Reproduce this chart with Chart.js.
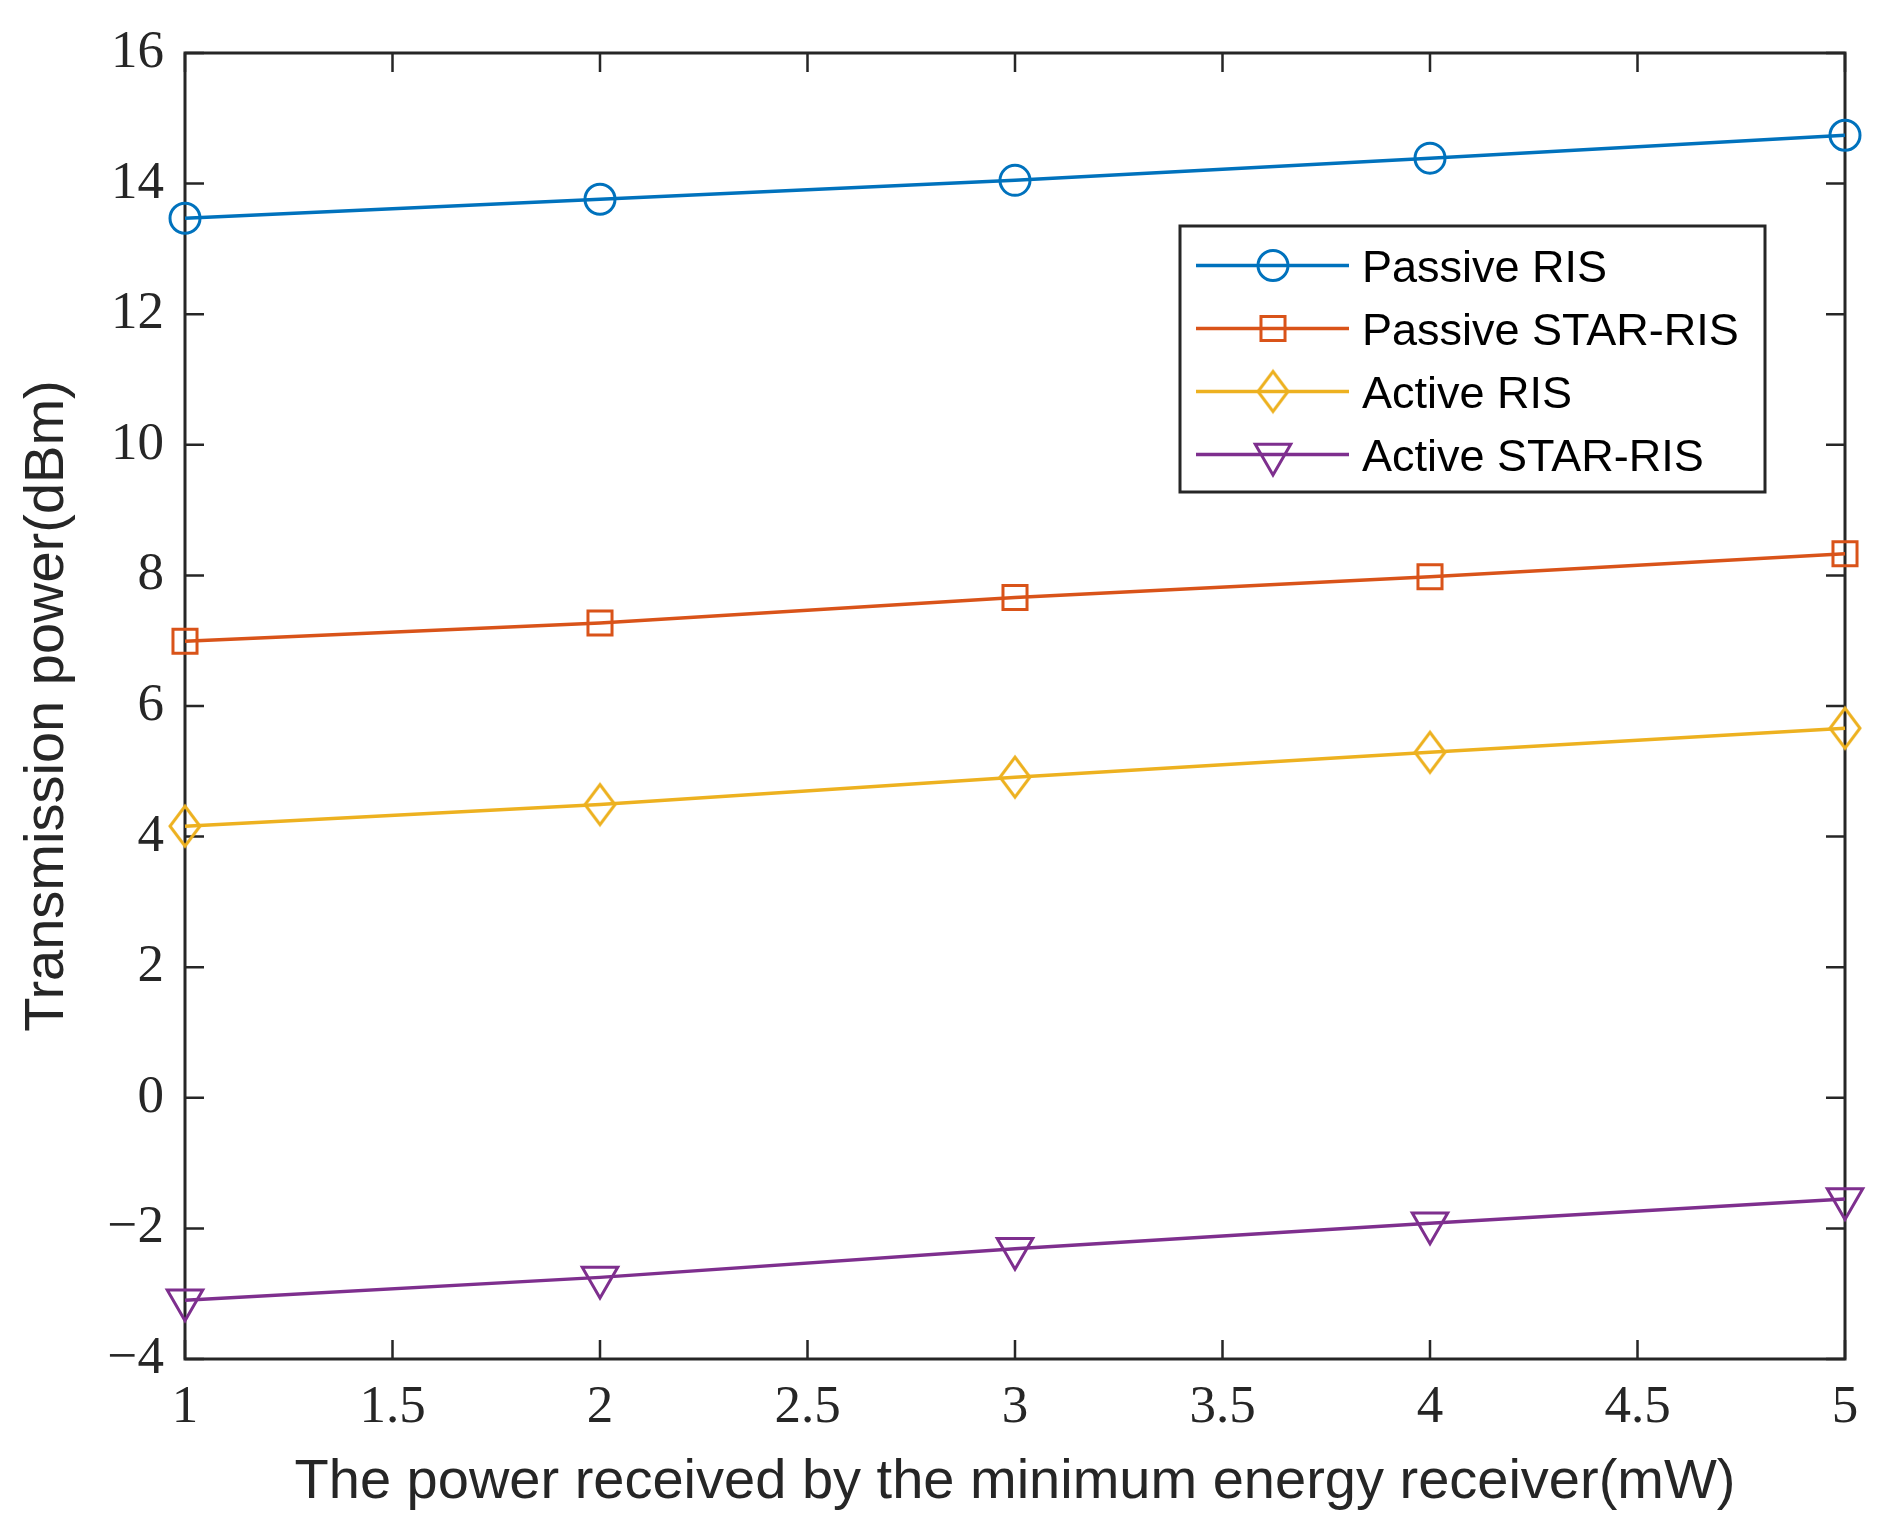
<!DOCTYPE html>
<html>
<head>
<meta charset="utf-8">
<script src="https://cdn.jsdelivr.net/npm/chart.js@4.4.1/dist/chart.umd.min.js"></script>
<style>
  html, body { margin: 0; padding: 0; background: #ffffff; }
  #wrap { position: relative; width: 1887px; height: 1534px; }
</style>
</head>
<body>
<div id="wrap"><canvas id="c" width="1887" height="1534"></canvas></div>
<script>
// ---- data ----
const xValues = [1, 2, 3, 4, 5];
const passiveRIS = [13.47, 13.76, 14.05, 14.39, 14.74];
const passiveSTAR = [6.99, 7.27, 7.66, 7.98, 8.33];
const activeRIS = [4.16, 4.49, 4.91, 5.29, 5.66];
const activeSTAR = [-3.10, -2.75, -2.31, -1.92, -1.55];
const seriesLabels = ['Passive RIS', 'Passive STAR-RIS', 'Active RIS', 'Active STAR-RIS'];
const xTickValues = [1, 1.5, 2, 2.5, 3, 3.5, 4, 4.5, 5];
const yTickValues = [-4, -2, 0, 2, 4, 6, 8, 10, 12, 14, 16];
const xTitle = 'The power received by the minimum energy receiver(mW)';
const yTitle = 'Transmission power(dBm)';

const colors = ['#0072BD', '#D95319', '#EDB120', '#7E2F8E'];
const axisColor = '#262626';

// custom diamond marker (taller than wide, like MATLAB)
function makeDiamond(color) {
  const cv = document.createElement('canvas');
  cv.width = 40; cv.height = 48;
  const g = cv.getContext('2d');
  g.strokeStyle = color; g.lineWidth = 3;
  g.beginPath();
  g.moveTo(20, 4); g.lineTo(35, 24); g.lineTo(20, 44); g.lineTo(5, 24); g.closePath();
  g.stroke();
  return cv;
}
const diamond = makeDiamond(colors[2]);

function pts(arr) { return arr.map((v, i) => ({x: xValues[i], y: v})); }

const datasets = [
  {label: seriesLabels[0], data: pts(passiveRIS), borderColor: colors[0], pointStyle: 'circle', pointRadius: 15, pointRotation: 0},
  {label: seriesLabels[1], data: pts(passiveSTAR), borderColor: colors[1], pointStyle: 'rect', pointRadius: 17, pointRotation: 0},
  {label: seriesLabels[2], data: pts(activeRIS), borderColor: colors[2], pointStyle: diamond, pointRadius: 20, pointRotation: 0},
  {label: seriesLabels[3], data: pts(activeSTAR), borderColor: colors[3], pointStyle: 'triangle', pointRadius: 20.5, pointRotation: 180}
].map(d => Object.assign(d, {
  backgroundColor: 'rgba(0,0,0,0)',
  pointBackgroundColor: 'rgba(0,0,0,0)',
  pointBorderColor: d.borderColor,
  pointBorderWidth: 3,
  borderWidth: 3.5,
  tension: 0,
  clip: false,
  pointHoverRadius: d.pointRadius
}));

const frameTicks = {
  id: 'frameTicks',
  beforeDatasetsDraw(chart) {
    const {ctx, chartArea: a, scales: {x, y}} = chart;
    const L = 19;
    ctx.save();
    ctx.strokeStyle = axisColor;
    ctx.lineWidth = 2.5;
    ctx.beginPath();
    xTickValues.forEach(v => {
      const px = x.getPixelForValue(v);
      ctx.moveTo(px, a.bottom); ctx.lineTo(px, a.bottom - L);
      ctx.moveTo(px, a.top); ctx.lineTo(px, a.top + L);
    });
    yTickValues.forEach(v => {
      const py = y.getPixelForValue(v);
      ctx.moveTo(a.left, py); ctx.lineTo(a.left + L, py);
      ctx.moveTo(a.right, py); ctx.lineTo(a.right - L, py);
    });
    ctx.stroke();
    ctx.lineWidth = 3;
    ctx.strokeRect(a.left, a.top, a.right - a.left, a.bottom - a.top);
    ctx.restore();
  },
  afterDraw(chart) {
    const ctx = chart.ctx;
    const bx = 1180, by = 226, bw = 585, bh = 266;
    ctx.save();
    ctx.fillStyle = '#ffffff';
    ctx.fillRect(bx, by, bw, bh);
    ctx.strokeStyle = axisColor;
    ctx.lineWidth = 3;
    ctx.strokeRect(bx, by, bw, bh);
    const rows = [265.5, 328.5, 391.5, 454.5];
    chart.data.datasets.forEach((ds, i) => {
      const ry = rows[i];
      ctx.strokeStyle = ds.borderColor;
      ctx.lineWidth = 3.5;
      ctx.beginPath();
      ctx.moveTo(1196, ry); ctx.lineTo(1349, ry);
      ctx.stroke();
      ctx.lineWidth = ds.pointBorderWidth;
      ctx.strokeStyle = ds.borderColor;
      ctx.fillStyle = 'rgba(0,0,0,0)';
      Chart.helpers.drawPoint(ctx, {pointStyle: ds.pointStyle, rotation: ds.pointRotation, radius: ds.pointRadius, borderWidth: ds.pointBorderWidth}, 1273, ry);
      ctx.fillStyle = '#000000';
      ctx.font = '45px "Liberation Sans", Arial, sans-serif';
      ctx.textBaseline = 'alphabetic';
      ctx.textAlign = 'left';
      ctx.fillText(ds.label, 1362, ry + 16);
    });
    ctx.restore();
  }
};

new Chart(document.getElementById('c'), {
  type: 'line',
  data: {datasets},
  options: {
    responsive: false,
    animation: false,
    devicePixelRatio: 1,
    layout: {padding: {left: 0, right: 42, top: 53, bottom: 0}},
    plugins: {legend: {display: false}, tooltip: {enabled: false}},
    scales: {
      x: {
        type: 'linear', min: 1, max: 5,
        afterFit(s) { s.height = 175; },
        afterBuildTicks(s) { s.ticks = xTickValues.map(v => ({value: v})); },
        grid: {display: false, drawTicks: false},
        border: {display: false},
        ticks: {
          padding: 17, color: axisColor, maxRotation: 0, autoSkip: false,
          font: {family: '"Liberation Serif", "Times New Roman", serif', size: 53},
          callback: v => String(v)
        },
        title: {display: true, text: xTitle, color: axisColor, padding: {top: 0, bottom: 18},
          font: {family: '"Liberation Sans", Arial, sans-serif', size: 56}}
      },
      y: {
        type: 'linear', min: -4, max: 16,
        afterFit(s) { s.width = 185; },
        afterBuildTicks(s) { s.ticks = yTickValues.map(v => ({value: v})); },
        grid: {display: false, drawTicks: false},
        border: {display: false},
        ticks: {
          padding: 21, color: axisColor, autoSkip: false,
          font: {family: '"Liberation Serif", "Times New Roman", serif', size: 53},
          callback: v => (v < 0 ? '\u2212' + Math.abs(v) : String(v))
        },
        title: {display: true, text: yTitle, color: axisColor, padding: {top: 14, bottom: 0},
          font: {family: '"Liberation Sans", Arial, sans-serif', size: 56}}
      }
    }
  },
  plugins: [frameTicks]
});
</script>
</body>
</html>
